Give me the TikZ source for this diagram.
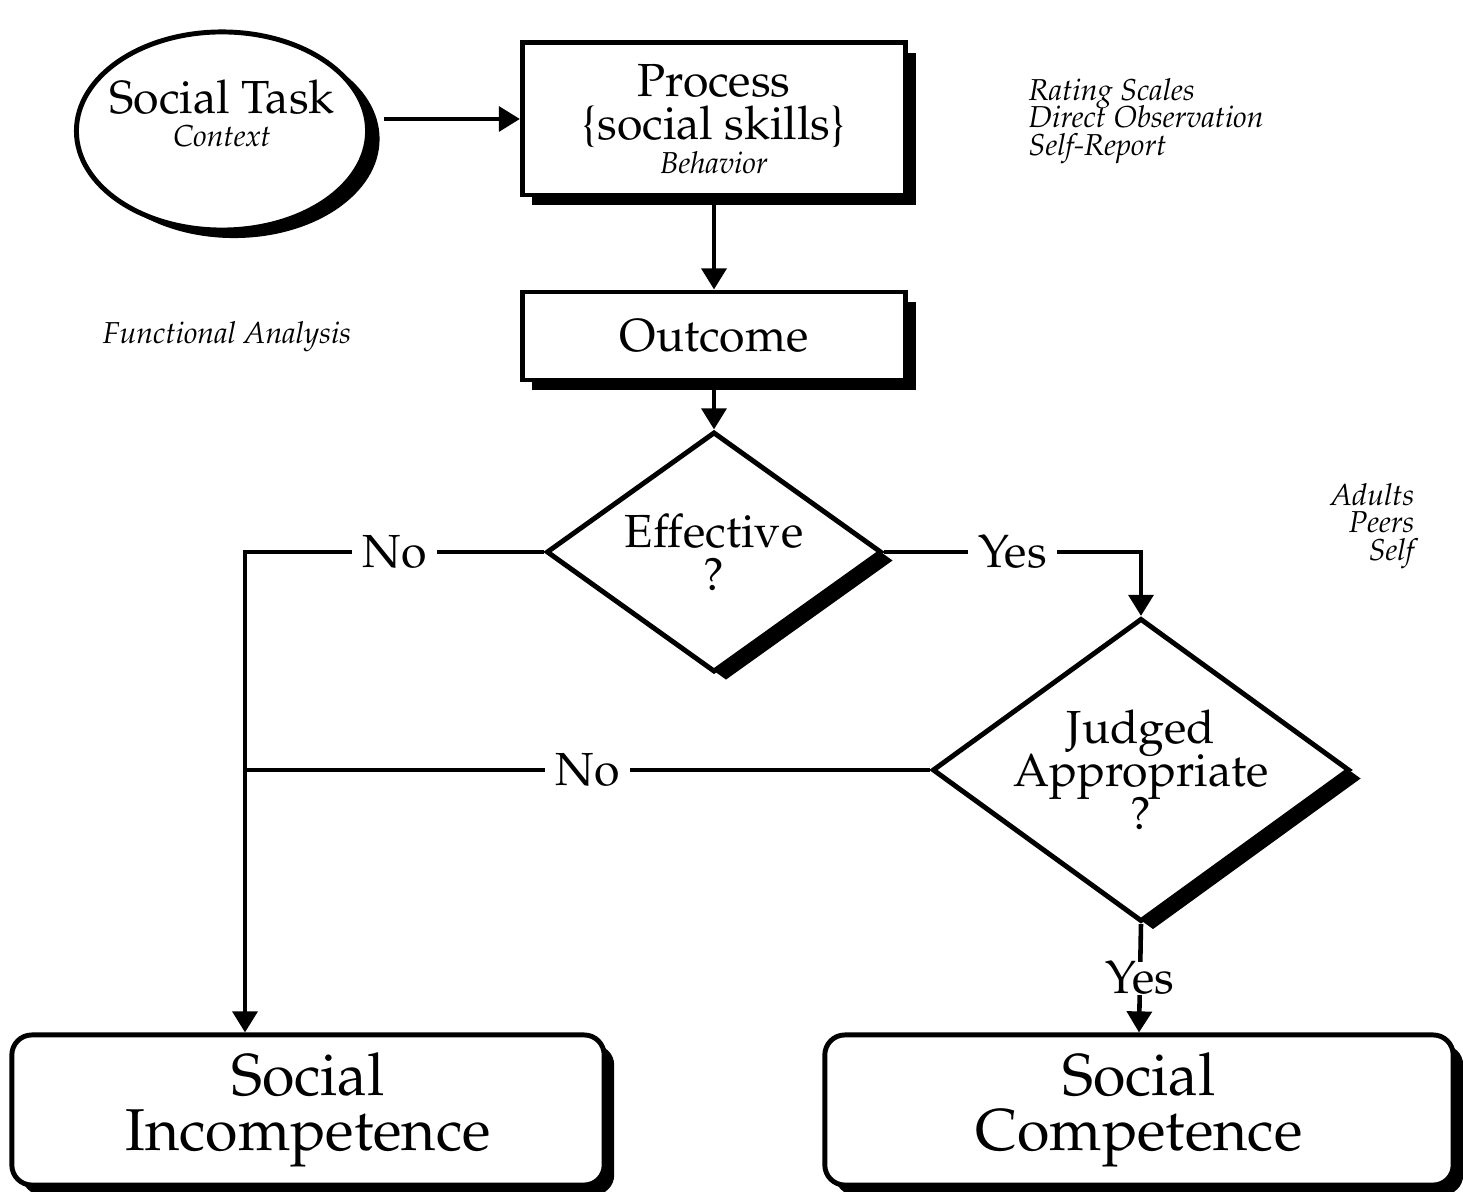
\documentclass[tikz,border=0pt]{standalone}
\usepackage[T1]{fontenc}
\usepackage{mathpazo}
\usepackage{tikz}
\usetikzlibrary{arrows.meta,shapes.geometric,shadows}

\newcommand\mainfnt{\fontsize{13.2}{12.2}\selectfont\lineskiplimit=-6pt}
\newcommand\bigfnt{\fontsize{16.8}{15.4}\selectfont\lineskiplimit=-6pt}
\newcommand\notefnt{\fontsize{8.6}{7.8}\selectfont\lineskiplimit=-6pt\itshape}

\begin{document}
\begin{tikzpicture}[x=0.01cm,y=-0.01cm,
  >={Triangle[length=6pt,width=7pt]},
  dropped/.style 2 args={drop shadow={shadow xshift=#1,shadow yshift=-#2,fill=black,opacity=1}},
  conn/.style={line width=1.3pt},
  ell/.style={ellipse,draw,fill=white,line width=1.4pt,align=center,font=\mainfnt,minimum width=2.91cm,minimum height=1.98cm,inner xsep=-.2cm,inner ysep=0pt,text height=.52cm,text depth=.2cm,dropped={.12cm}{.08cm}},
  box/.style={rectangle,draw,fill=white,line width=1.4pt,align=center,font=\mainfnt,minimum width=3.83cm,dropped={.1cm}{.1cm}},
  dec/.style={diamond,draw,fill=white,line width=1.4pt,align=center,font=\mainfnt,inner sep=-1.5pt,aspect=1.37,dropped={.12cm}{.085cm}},
  final/.style={rectangle,rounded corners=.2cm,draw,fill=white,line width=1.4pt,align=center,font=\bigfnt,minimum height=1.5cm,dropped={.1cm}{.1cm}},
  lbl/.style={fill=white,font=\mainfnt,inner xsep=3pt,inner ysep=0pt},
  note/.style={font=\notefnt,align=center,inner sep=0pt}]
\useasboundingbox (0,0) rectangle (1463,1192);

\node[ell] (task) at (222,131) {Social Task\\[-2.6pt]{\notefnt Context}};
\node[box,minimum height=1.52cm] (proc) at (714,119) {Process\\\{social skills\}\\[-2.6pt]{\notefnt Behavior}};
\node[box,minimum height=0.88cm] (out) at (714,336) {Outcome};
\node[dec,minimum width=3.35cm,minimum height=2.4cm] (eff) at (714,552) {Effective\\?};
\node[dec,minimum width=4.17cm,minimum height=3.03cm] (judge) at (1141,770) {Judged\\Appropriate\\?};
\node[final,minimum width=5.92cm] (incomp) at (308,1110) {Social\\Incompetence};
\node[final,minimum width=6.28cm] (comp) at (1139,1110) {Social\\Competence};

\node[note] (func) at (227,337) {Functional Analysis};
\node[note,anchor=west,align=left] (meas) at (1028,121) {Rating Scales\\Direct Observation\\Self-Report};
\node[note,anchor=east,align=right] (raters) at (1415,526) {Adults\\Peers\\Self};

\coordinate (taskout) at ([xshift=.14cm]task.east);
\coordinate (noturn) at (245,552);

\draw[->,conn] (taskout |- proc.west) -- (proc.west);
\draw[->,conn] (proc.south) -- (out.north);
\draw[->,conn] (out.south) -- (eff.north);
\draw[->,conn] (eff.west) -- node[lbl]{No} (noturn) -- (noturn |- incomp.north);
\draw[conn] (judge.west) -- node[lbl]{No} (judge.west -| noturn);
\draw[->,conn] (eff.east) -- node[lbl]{Yes} (eff.east -| judge.north) -- (judge.north);
\draw[->,conn] (judge.south) -- node[lbl]{Yes} (comp.north);
\end{tikzpicture}
\end{document}
